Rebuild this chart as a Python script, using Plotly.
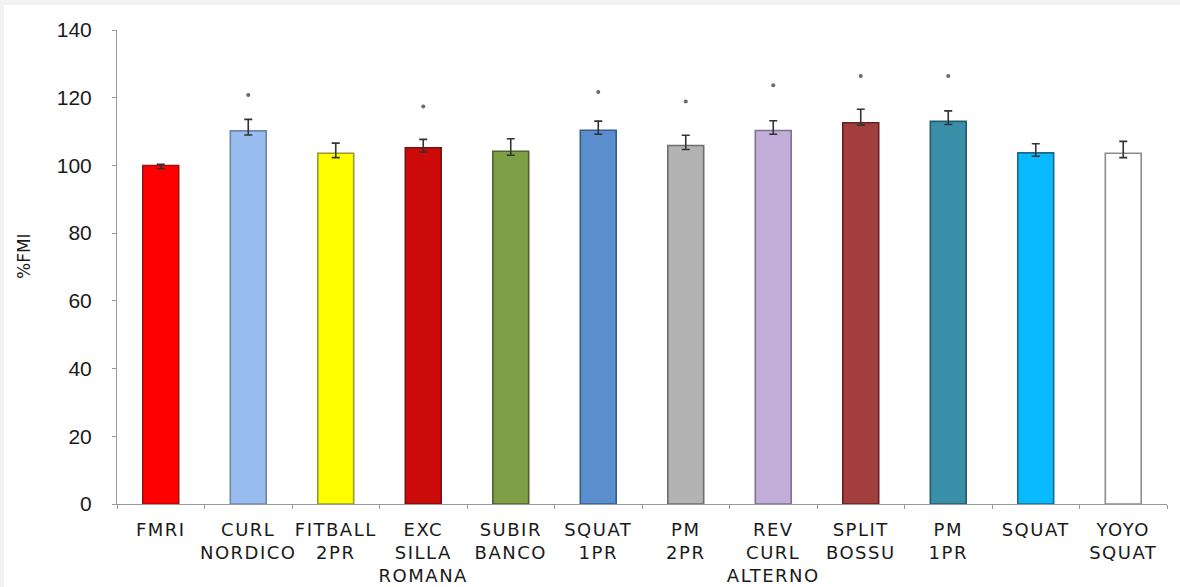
import plotly.graph_objects as go

# Exercise categories (line breaks as shown under each bar)
categories = [
    "FMRI", "CURL<br>NORDICO", "FITBALL<br>2PR", "EXC<br>SILLA<br>ROMANA",
    "SUBIR<br>BANCO", "SQUAT<br>1PR", "PM<br>2PR", "REV<br>CURL<br>ALTERNO",
    "SPLIT<br>BOSSU", "PM<br>1PR", "SQUAT", "YOYO<br>SQUAT",
]

# Mean %FMI per exercise
means = [100.0, 110.2, 103.6, 105.2, 104.2, 110.4, 105.9, 110.3, 112.6, 113.0, 103.7, 103.6]

# Error bar extents above / below the mean
err_plus = [0.3, 3.4, 3.0, 2.5, 3.7, 2.7, 3.0, 2.9, 4.0, 3.1, 2.7, 3.5]
err_minus = [1.0, 1.2, 1.3, 1.2, 1.2, 1.2, 1.2, 1.1, 0.7, 0.9, 1.0, 1.3]

# Significance markers (position of the asterisk, None = not significant)
signif_y = [None, 120.8, None, 117.4, None, 121.7, 118.9, 123.7, 126.4, 126.4, None, None]

y_ticks = [0, 20, 40, 60, 80, 100, 120, 140]

fill_colors = [
    "#FF0000", "#99BDF0", "#FFFF00", "#CC0A0A", "#7E9F45", "#5A8ECF",
    "#B3B3B3", "#C2AED8", "#A33E3E", "#3A8FA8", "#0ABAFF", "#FFFFFF",
]
edge_colors = [
    "#A01010", "#6F86A8", "#9A9A30", "#7A1010", "#4F6330", "#345D8C",
    "#6E6E6E", "#7F7095", "#652222", "#235C6E", "#1B6A8A", "#8C8C8C",
]

fig = go.Figure()

fig.add_trace(go.Bar(
    x=categories,
    y=means,
    width=0.41,
    marker=dict(color=fill_colors, line=dict(color=edge_colors, width=1.6)),
    error_y=dict(
        type="data", symmetric=False, array=err_plus, arrayminus=err_minus,
        color="#333333", thickness=1.6, width=4,
    ),
    showlegend=False,
    hoverinfo="x+y",
))

sig_x = [c for c, s in zip(categories, signif_y) if s is not None]
sig_y = [s for s in signif_y if s is not None]
fig.add_trace(go.Scatter(
    x=sig_x,
    y=sig_y,
    mode="markers",
    marker=dict(symbol="circle", size=4, color="#6A6A6A"),
    showlegend=False,
    hoverinfo="skip",
))

# pixel helpers for the frame (plot area spans x 117..1167, y 30..504)
W, H = 1180, 587
ML, MR, MT, MB = 117, 13, 30, 83
pw, ph = W - ML - MR, H - MT - MB


def px_x(p):
    return (p - ML) / pw


def px_y(p):
    return (H - MB - p) / ph


band = "#F2F2F2"
fig.update_layout(
    width=W,
    height=H,
    margin=dict(l=ML, r=MR, t=MT, b=MB),
    paper_bgcolor="#FFFFFF",
    plot_bgcolor="rgba(0,0,0,0)",
    shapes=[
        # thin grey frame bands along the top and left edges
        dict(type="rect", xref="paper", yref="paper", layer="below",
             x0=px_x(-2), x1=px_x(W + 2), y0=px_y(5), y1=px_y(-2),
             fillcolor=band, line=dict(width=0)),
        dict(type="rect", xref="paper", yref="paper", layer="below",
             x0=px_x(-2), x1=px_x(4), y0=px_y(H + 2), y1=px_y(-2),
             fillcolor=band, line=dict(width=0)),
    ],
    annotations=[
        dict(
            text="%FMI", xref="paper", yref="paper",
            x=px_x(24), y=px_y(256), textangle=-90, showarrow=False,
            font=dict(family="DejaVu Sans", size=17, color="#1A1A1A"),
            xanchor="center", yanchor="middle",
        )
    ],
    xaxis=dict(
        type="category",
        showline=True, linecolor="#9A9A9A", linewidth=1,
        ticks="outside", ticklen=4, tickcolor="#9A9A9A", tickson="boundaries",
        tickfont=dict(family="DejaVu Sans", size=18, color="#1A1A1A"),
        tickangle=0, automargin=False, ticklabelstandoff=9,
        showgrid=False, zeroline=False,
        range=[-0.5, 11.5],
    ),
    yaxis=dict(
        range=[0, 140],
        tickvals=y_ticks,
        showline=True, linecolor="#9A9A9A", linewidth=1,
        ticks="outside", ticklen=4, tickcolor="#9A9A9A",
        tickfont=dict(family="Liberation Sans", size=21, color="#1A1A1A"),
        ticklabelstandoff=16, automargin=False,
        showgrid=False, zeroline=False,
    ),
)

fig.write_html(
    "out.html",
    post_script="document.querySelectorAll('.xtick text').forEach(function(t){t.style.letterSpacing='1.5px';});",
)
